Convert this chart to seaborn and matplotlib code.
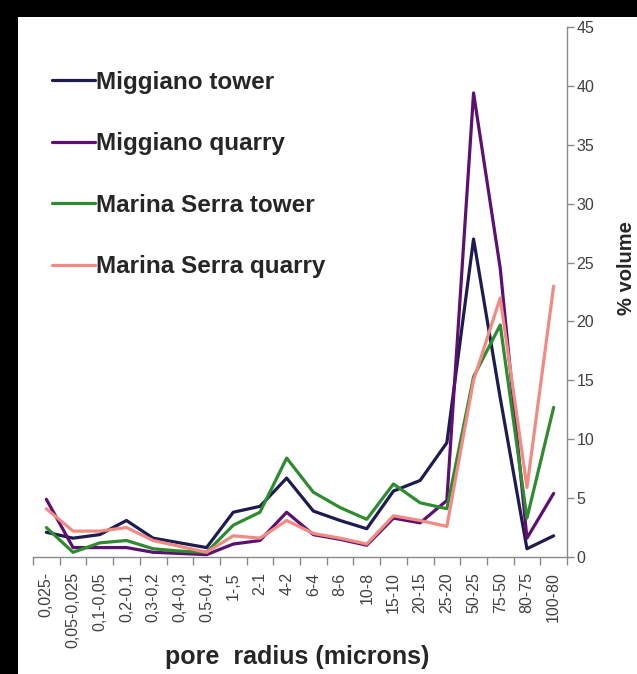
import matplotlib
matplotlib.use("Agg")
import numpy as np
import pandas as pd
import matplotlib.pyplot as plt
import seaborn as sns
from matplotlib.patches import Rectangle

# pore size classes (microns), as printed on the x axis
pore_classes = ["0,025-", "0,05-0,025", "0,1-0,05", "0,2-0,1", "0,3-0,2",
                "0,4-0,3", "0,5-0,4", "1-,5", "2-1", "4-2", "6-4", "8-6",
                "10-8", "15-10", "20-15", "25-20", "50-25", "75-50",
                "80-75", "100-80"]

# % volume per class
miggiano_tower = [2.1, 1.6, 1.9, 3.1, 1.6, 1.2, 0.8, 3.8, 4.3, 6.7,
                  3.9, 3.1, 2.4, 5.6, 6.5, 9.7, 27.0, 13.5, 0.7, 1.8]
miggiano_quarry = [4.9, 0.8, 0.8, 0.8, 0.4, 0.3, 0.2, 1.1, 1.4, 3.8,
                   1.9, 1.5, 1.0, 3.3, 2.9, 4.8, 39.4, 24.5, 1.6, 5.4]
marina_serra_tower = [2.5, 0.4, 1.2, 1.4, 0.7, 0.5, 0.4, 2.7, 3.8, 8.4,
                      5.5, 4.2, 3.2, 6.2, 4.6, 4.1, 15.3, 19.7, 3.3, 12.7]
marina_serra_quarry = [4.1, 2.2, 2.2, 2.5, 1.4, 0.9, 0.4, 1.8, 1.6, 3.1,
                       2.0, 1.6, 1.1, 3.5, 3.1, 2.6, 15.0, 22.0, 5.9, 23.0]

sample_names = ["Miggiano tower", "Miggiano quarry",
                "Marina Serra tower", "Marina Serra quarry"]
sample_colors = ["#1e1b50", "#5c106f", "#2f8b30", "#f08a82"]

series = [miggiano_tower, miggiano_quarry, marina_serra_tower, marina_serra_quarry]
df = pd.concat([
    pd.DataFrame({"pore": pore_classes, "volume": vals, "sample": name})
    for name, vals in zip(sample_names, series)
], ignore_index=True)

sns.set_style("white")
plt.rcParams["font.family"] = ["Liberation Sans", "DejaVu Sans"]

fig = plt.figure(figsize=(6.37, 6.74), dpi=100, facecolor="black")
# white page inside the black frame (top and left)
fig.add_artist(Rectangle((18 / 637, 0), 1, (674 - 17) / 674,
                         transform=fig.transFigure, facecolor="white",
                         edgecolor="none", zorder=0))

ax = fig.add_axes([33 / 637, (674 - 557) / 674, 534 / 637, 530 / 674])
ax.set_facecolor("none")
sns.lineplot(data=df, x="pore", y="volume", hue="sample",
             hue_order=sample_names, palette=sample_colors,
             sort=False, linewidth=2.3, ax=ax)

ax.set_xlim(-0.5, len(pore_classes) - 0.5)
ax.set_ylim(0, 45)
ax.set_xlabel("")
ax.set_ylabel("")

grey = "#8a8a8a"
for side in ["left", "top"]:
    ax.spines[side].set_visible(False)
for side in ["right", "bottom"]:
    ax.spines[side].set_color(grey)
    ax.spines[side].set_linewidth(1.0)

# y axis on the right
ax.set_yticks(np.arange(0, 50, 5))
ax.tick_params(axis="y", which="major", left=False, right=True,
               labelleft=False, labelright=True, length=5, width=1,
               color=grey, labelsize=11.5, labelcolor="#404040", pad=2)

# x: labels at class centres, ticks between classes
ax.set_xticks(range(len(pore_classes)))
ax.set_xticklabels(pore_classes, rotation=90, va="top")
ax.set_xticks(np.arange(-0.5, len(pore_classes), 1), minor=True)
ax.tick_params(axis="x", which="major", length=0, labelsize=11.5,
               labelcolor="#404040", pad=11)
ax.tick_params(axis="x", which="minor", bottom=True, length=6, width=1,
               color=grey)

leg = ax.legend(loc="upper left", bbox_to_anchor=(52 / 637, 1 - 71 / 674),
                bbox_transform=fig.transFigure, frameon=False,
                borderpad=0, borderaxespad=0,
                prop={"weight": "bold", "size": 17.5},
                handlelength=1.75, handletextpad=0.08, labelspacing=1.58)
for line in leg.get_lines():
    line.set_linewidth(2.3)

fig.text(297 / 637, 1 - 657 / 674, "pore  radius (microns)",
         ha="center", va="center", fontsize=18, fontweight="bold")
fig.text(636 / 637, 1 - 268 / 674, "% volume", rotation=90,
         ha="right", va="center", fontsize=14.5, fontweight="bold")

fig.savefig("out.png", dpi=100, facecolor=fig.get_facecolor())
